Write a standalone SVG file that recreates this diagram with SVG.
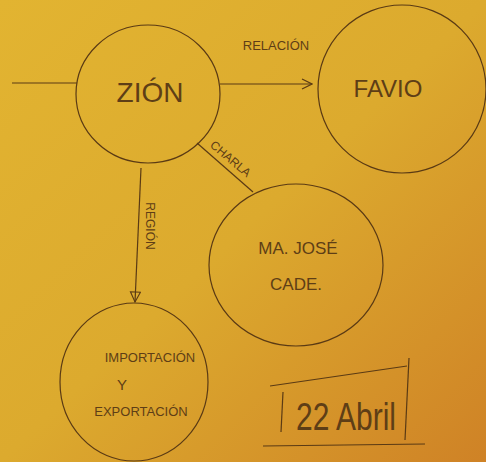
<svg xmlns="http://www.w3.org/2000/svg" width="486" height="462" viewBox="0 0 486 462">
<defs>
<linearGradient id="bg" x1="0" y1="0" x2="1" y2="1">
<stop offset="0" stop-color="#e2b431"/>
<stop offset="0.5" stop-color="#dcaa2e"/>
<stop offset="1" stop-color="#cf8226"/>
</linearGradient>
<marker id="open" viewBox="0 0 12 12" refX="11" refY="6" markerWidth="12" markerHeight="12" markerUnits="userSpaceOnUse" orient="auto">
<path d="M1,1 L11,6 L1,11" fill="none" stroke="#5a3a14" stroke-width="1.2"/>
</marker>
<marker id="tri" viewBox="0 0 12 12" refX="11" refY="6" markerWidth="12" markerHeight="12" markerUnits="userSpaceOnUse" orient="auto">
<path d="M1,1 L11,6 L1,11 Z" fill="none" stroke="#5a3a14" stroke-width="1.1"/>
</marker>
</defs>
<style>
.ln{fill:none;stroke:#5a3a14;stroke-width:1.2}
.t{font-family:"Liberation Sans",Arial,sans-serif;fill:#5e3e16;text-anchor:middle}
</style>
<rect width="486" height="462" fill="url(#bg)"/>
<g id="connectors">
<line class="ln" x1="12" y1="83" x2="77" y2="83"/>
<line class="ln" x1="220" y1="84" x2="312" y2="84" marker-end="url(#open)"/>
<text class="t" x="276" y="50" font-size="13">RELACIÓN</text>
<line class="ln" x1="197" y1="143" x2="253" y2="192"/>
<text class="t" font-size="12" transform="translate(228,162) rotate(40)">CHARLA</text>
<line class="ln" x1="141" y1="168" x2="135" y2="302" marker-end="url(#tri)"/>
<text class="t" font-size="12" transform="translate(146,226) rotate(90)">REGIÓN</text>
</g>
<g id="zion">
<ellipse class="ln" cx="148" cy="94" rx="72" ry="69"/>
<text class="t" x="150" y="102" font-size="28">ZIÓN</text>
</g>
<g id="favio">
<ellipse class="ln" cx="402" cy="89" rx="84" ry="84"/>
<text class="t" x="388" y="97" font-size="24">FAVIO</text>
</g>
<g id="majose">
<ellipse class="ln" cx="296" cy="265" rx="87" ry="81"/>
<text class="t" x="298" y="254" font-size="17">MA. JOSÉ</text>
<text class="t" x="296" y="290" font-size="17">CADE.</text>
</g>
<g id="importacion">
<ellipse class="ln" cx="134" cy="382" rx="74" ry="79"/>
<text class="t" x="150" y="362" font-size="13">IMPORTACIÓN</text>
<text class="t" x="122" y="390" font-size="15">Y</text>
<text class="t" x="141" y="416" font-size="13">EXPORTACIÓN</text>
</g>
<g id="date">
<line class="ln" x1="270" y1="386" x2="407" y2="366"/>
<line class="ln" x1="263" y1="446" x2="425" y2="444"/>
<line class="ln" x1="283" y1="392" x2="281" y2="432"/>
<line class="ln" x1="409" y1="358" x2="405" y2="440"/>
<text class="t" x="346" y="430" font-size="38" textLength="100" lengthAdjust="spacingAndGlyphs">22 Abril</text>
</g>
</svg>
